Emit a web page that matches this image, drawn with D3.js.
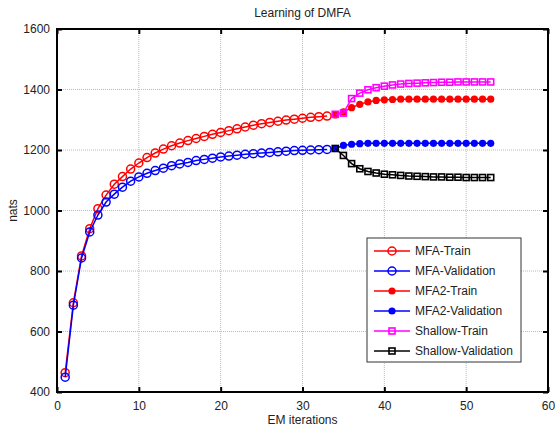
<!DOCTYPE html>
<html>
<head>
<meta charset="utf-8">
<script src="https://cdn.jsdelivr.net/npm/d3@7"></script>
<style>
  body { margin: 0; background: #fff; }
  svg { font-family: "Liberation Sans", Arial, sans-serif; }
</style>
</head>
<body>
<div id="chart"></div>
<script>
// iterations
var mfaIters = d3.range(1, 34);
var deepIters = d3.range(34, 54);

// MFA curves (iterations 1..33)
var mfaTrain = [464, 695, 850, 940, 1006, 1051, 1087, 1112, 1137, 1157, 1175, 1190, 1203, 1214, 1223, 1231, 1238,
  1245, 1252, 1258, 1264, 1270, 1276, 1282, 1287, 1291, 1295, 1299, 1302, 1305, 1308, 1310, 1312];
var mfaValid = [449, 687, 843, 929, 985, 1028, 1054, 1077, 1097, 1111, 1123, 1132, 1140, 1148, 1154, 1159, 1165,
  1169, 1173, 1177, 1180, 1183, 1186, 1188, 1190, 1192, 1194, 1196, 1198, 1199, 1200, 1201, 1202];

// iterations 34..53
var mfa2Train = [1316, 1326, 1340, 1351, 1359, 1364, 1366, 1367, 1368, 1368, 1368, 1368, 1368, 1368, 1368, 1368, 1368, 1368, 1368, 1368];
var mfa2Valid = [1205, 1215, 1219, 1221, 1222, 1222, 1222, 1222, 1222, 1222, 1222, 1222, 1222, 1222, 1222, 1222, 1222, 1222, 1222, 1222];
var shallowTrain = [1318, 1322, 1370, 1388, 1399, 1406, 1411, 1415, 1418, 1420, 1421, 1422, 1423, 1424, 1424, 1425, 1425, 1425, 1425, 1425];
var shallowValid = [1205, 1182, 1155, 1138, 1129, 1124, 1120, 1118, 1116, 1114, 1113, 1112, 1111, 1111, 1110, 1110, 1109, 1109, 1109, 1109];

var xTicks = [0, 10, 20, 30, 40, 50, 60];
var yTicks = [400, 600, 800, 1000, 1200, 1400, 1600];

var series = [
  {name: "MFA-Train", x: mfaIters, y: mfaTrain, color: "#ff0000", marker: "circle"},
  {name: "MFA-Validation", x: mfaIters, y: mfaValid, color: "#0000ff", marker: "circle"},
  {name: "MFA2-Train", x: deepIters, y: mfa2Train, color: "#ff0000", marker: "dot"},
  {name: "MFA2-Validation", x: deepIters, y: mfa2Valid, color: "#0000ff", marker: "dot"},
  {name: "Shallow-Train", x: deepIters, y: shallowTrain, color: "#ff00ff", marker: "square"},
  {name: "Shallow-Validation", x: deepIters, y: shallowValid, color: "#000000", marker: "square"}
];

var W = 555, H = 428;
var m = {left: 57, right: 7, top: 29, bottom: 36};
var FS = 12;

var svg = d3.select("#chart").append("svg").attr("width", W).attr("height", H);

var x = d3.scaleLinear().domain([0, 60]).range([m.left, W - m.right]);
var y = d3.scaleLinear().domain([400, 1600]).range([H - m.bottom, m.top]);

// grid
var grid = svg.append("g").attr("stroke", "#bbbbbb").attr("stroke-width", 1).attr("stroke-dasharray", "1,1");
grid.selectAll(".gx").data(xTicks.slice(1, -1)).enter().append("line")
  .attr("x1", function (d) { return x(d); }).attr("x2", function (d) { return x(d); })
  .attr("y1", y(400)).attr("y2", y(1600));
grid.selectAll(".gy").data(yTicks.slice(1, -1)).enter().append("line")
  .attr("y1", function (d) { return y(d); }).attr("y2", function (d) { return y(d); })
  .attr("x1", x(0)).attr("x2", x(60));

// axes (matlab style, ticks inward on all sides)
var fmt = d3.format("d");
svg.append("g").attr("transform", "translate(0," + y(400) + ")")
  .call(d3.axisBottom(x).tickValues(xTicks).tickFormat(fmt).tickSizeInner(-5).tickSizeOuter(0).tickPadding(9));
svg.append("g").attr("transform", "translate(0," + y(1600) + ")")
  .call(d3.axisTop(x).tickValues(xTicks).tickSizeInner(-5).tickSizeOuter(0).tickFormat(""));
svg.append("g").attr("transform", "translate(" + x(0) + ",0)")
  .call(d3.axisLeft(y).tickValues(yTicks).tickFormat(fmt).tickSizeInner(-5).tickSizeOuter(0).tickPadding(7));
svg.append("g").attr("transform", "translate(" + x(60) + ",0)")
  .call(d3.axisRight(y).tickValues(yTicks).tickSizeInner(-5).tickSizeOuter(0).tickFormat(""));

svg.selectAll(".domain").remove();
svg.selectAll(".tick line").attr("stroke", "#000").attr("stroke-width", 2);
svg.selectAll(".tick text").attr("font-size", FS).attr("fill", "#222")
  .style("font-family", "Liberation Sans, Arial, sans-serif");

svg.append("rect")
  .attr("x", x(0)).attr("y", y(1600))
  .attr("width", x(60) - x(0)).attr("height", y(400) - y(1600))
  .attr("fill", "none").attr("stroke", "#000").attr("stroke-width", 2);

function drawMarker(g, s, cx, cy) {
  if (s.marker === "circle") {
    g.append("circle").attr("cx", cx).attr("cy", cy).attr("r", 4)
      .attr("fill", "none").attr("stroke", s.color).attr("stroke-width", 1.5);
  } else if (s.marker === "dot") {
    g.append("circle").attr("cx", cx).attr("cy", cy).attr("r", 3.6)
      .attr("fill", s.color).attr("stroke", "none");
  } else {
    g.append("rect").attr("x", cx - 3).attr("y", cy - 3).attr("width", 6).attr("height", 6)
      .attr("fill", "none").attr("stroke", s.color).attr("stroke-width", 1.6);
  }
}

var line = d3.line().x(function (d) { return x(d[0]); }).y(function (d) { return y(d[1]); });

series.forEach(function (s) {
  var pts = s.x.map(function (v, i) { return [v, s.y[i]]; });
  var g = svg.append("g");
  g.append("path").datum(pts).attr("d", line)
    .attr("fill", "none").attr("stroke", s.color).attr("stroke-width", 1.5);
  pts.forEach(function (p) { drawMarker(g, s, x(p[0]), y(p[1])); });
});

// title and labels
svg.append("text").attr("x", (x(0) + x(60)) / 2).attr("y", 17).attr("text-anchor", "middle")
  .attr("font-size", FS).attr("fill", "#222").text("Learning of DMFA");
svg.append("text").attr("x", (x(0) + x(60)) / 2).attr("y", 424).attr("text-anchor", "middle")
  .attr("font-size", FS).attr("fill", "#222").text("EM iterations");
svg.append("text").attr("transform", "translate(17," + ((y(400) + y(1600)) / 2) + ") rotate(-90)")
  .attr("text-anchor", "middle").attr("font-size", FS).attr("fill", "#222").text("nats");

// legend
var lg = svg.append("g").attr("transform", "translate(367,238)");
lg.append("rect").attr("width", 154).attr("height", 124)
  .attr("fill", "#fff").attr("stroke", "#333").attr("stroke-width", 1);
series.forEach(function (s, i) {
  var yy = 13 + i * 20;
  lg.append("line").attr("x1", 7).attr("x2", 43).attr("y1", yy).attr("y2", yy)
    .attr("stroke", s.color).attr("stroke-width", 1.5);
  drawMarker(lg, s, 25, yy);
  lg.append("text").attr("x", 48).attr("y", yy + 4).attr("font-size", FS).attr("fill", "#222").text(s.name);
});
</script>
</body>
</html>
